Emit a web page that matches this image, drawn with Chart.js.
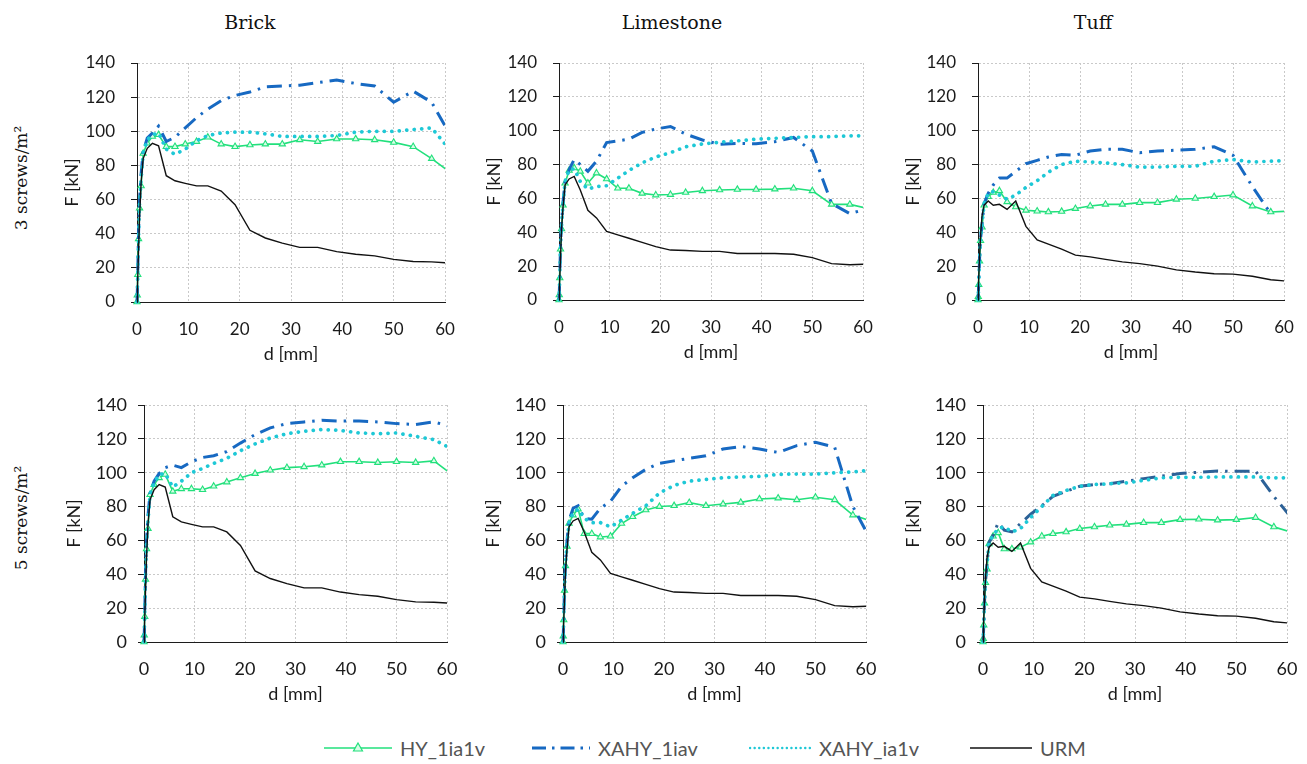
<!DOCTYPE html>
<html>
<head>
<meta charset="utf-8">
<script src="https://cdn.jsdelivr.net/npm/chart.js@4.4.1/dist/chart.umd.min.js"></script>
<style>
  body { margin: 0; background: #fff; width: 1307px; height: 764px; position: relative; overflow: hidden; font-family: Lato, sans-serif; }
  .panel { position: absolute; }
  .colTitle { position: absolute; top: 11px; font: 19px 'DejaVu Serif', serif; color: #111; transform: translateX(-50%); white-space: nowrap; }
  .rowTitle { position: absolute; font: 17px 'DejaVu Serif', serif; color: #111; transform: translate(-50%, -50%) rotate(-90deg); white-space: nowrap; }
  .legItem { position: absolute; top: 736px; height: 24px; display: flex; align-items: center; font: 20px Lato, sans-serif; color: #555; white-space: nowrap; }
  .legItem svg { margin-right: 8px; }
</style>
</head>
<body>

<div class="colTitle" style="left:250px">Brick</div>
<div class="colTitle" style="left:672px">Limestone</div>
<div class="colTitle" style="left:1093px">Tuff</div>
<div class="rowTitle" style="left:21px; top:178px">3 screws/m²</div>
<div class="rowTitle" style="left:21px; top:518px">5 screws/m²</div>

<div class="legItem" style="left:324px">
  <svg width="68" height="20"><line x1="0" y1="10" x2="68" y2="10" stroke="#22e07c" stroke-width="1.6"/><polygon points="34,5 38.5,13 29.5,13" fill="#d8fde6" stroke="#22e07c" stroke-width="1.2"/></svg>HY_1ia1v
</div>
<div class="legItem" style="left:532px">
  <svg width="58" height="20"><line x1="0" y1="10" x2="58" y2="10" stroke="#1769c2" stroke-width="3" stroke-dasharray="14 6 2.5 6"/></svg>XAHY_1iav
</div>
<div class="legItem" style="left:749px">
  <svg width="62" height="20"><line x1="1" y1="10" x2="61" y2="10" stroke="#1ec8d6" stroke-width="2.4" stroke-linecap="round" stroke-dasharray="0.1 4.5"/></svg>XAHY_ia1v
</div>
<div class="legItem" style="left:970px">
  <svg width="62" height="20"><line x1="0" y1="10" x2="62" y2="10" stroke="#111" stroke-width="1.4"/></svg>URM
</div>

<script>
// displacement steps shared by every envelope curve [mm]
const dispMm = [0, 0.05, 0.15, 0.3, 0.5, 0.8, 1.2, 2.0, 3.0, 4.2, 5.7, 7.4, 9.4, 11.6, 13.8, 16.4, 19.1, 22.0,
                25.0, 28.3, 31.7, 35.2, 38.9, 42.6, 46.3, 50.0, 53.8, 57.4, 61.0];

const xTicks = [0, 10, 20, 30, 40, 50, 60];
const yTicks = [0, 20, 40, 60, 80, 100, 120, 140];

const seriesNames = ['HY_1ia1v', 'XAHY_1iav', 'XAHY_ia1v', 'URM'];

// unreinforced walls, one curve per masonry type [kN]
const urmBrick     = [0, 2, 10, 30, 50, 70, 84, 90, 93, 91.5, 74, 71, 69.5, 68, 68, 65, 57, 42, 37.5, 34.5, 32, 32, 29.5, 28, 27, 25, 23.7, 23.5, 22.8];
const urmLimestone = [0, 2, 9, 25, 42, 55, 68, 71.5, 73, 65, 53, 48.5, 40.5, 38.5, 36.5, 34, 31.5, 29.5, 29.2, 28.7, 28.7, 27.5, 27.5, 27.5, 27, 25, 21.5, 20.8, 21.3];
const urmTuff      = [0, 2, 10, 25, 38, 50, 56, 58.5, 56, 56.5, 53.5, 58.5, 43.5, 35.5, 33, 30, 26.5, 25.5, 24, 22.5, 21.5, 20, 17.8, 16.5, 15.5, 15.3, 14, 12, 11];

// 3 screws/m2
const hyBrick3   = [0, 4, 16, 37, 55, 68, 87, 93, 97, 98, 91, 91, 92.5, 94, 96.5, 92.5, 91, 92, 92.5, 92.5, 95, 94, 95.5, 95.5, 95, 93.5, 91, 84, 76];
const avBrick3   = [0, 4, 18, 40, 60, 75, 88, 96, 99, 103, 94, 96.5, 102, 108, 113, 118, 121, 123, 126, 126.5, 127, 128.5, 130, 128, 126.5, 117, 123.5, 117, 98];
const vBrick3    = [0, 4, 17, 38, 58, 72, 87, 95, 98, 99, 89.5, 86.5, 89.5, 94.5, 97.5, 99, 99.5, 99.5, 98.5, 97, 97, 97, 97.5, 99.5, 100, 100, 101, 102, 89];

const hyLime3    = [0, 3, 13, 30, 42, 56, 69, 76.5, 78, 76, 69, 75, 71.5, 66, 66, 63, 62, 62.3, 63.5, 64.5, 65, 65.3, 65.3, 65.5, 66, 64.5, 56.5, 56.5, 54];
const avLime3    = [0, 3, 14, 32, 45, 58, 70, 77, 83, 80, 76, 82, 93, 94, 95, 99, 101, 102.5, 98, 94.5, 92, 92.5, 92.3, 93.5, 96, 88, 57, 51, 54];
const vLime3     = [0, 3, 14, 31, 44, 57, 70, 77, 77.5, 70, 65.5, 67, 67.5, 72, 76.5, 81, 84.5, 87, 90.5, 92.2, 93.2, 94, 95, 95.5, 96, 96.5, 96.5, 97, 97];

const hyTuff3    = [0, 2, 9, 23, 35, 43, 56, 61, 63.5, 64.5, 58, 55, 53, 52.5, 52, 52.3, 54, 55.5, 56.5, 56.5, 57.5, 57.5, 59.5, 60, 61, 62, 55.5, 52, 52.5];
const avTuff3    = [0, 2, 10, 24, 36, 45, 57, 63, 68, 72, 72, 76, 80.5, 82.5, 84.5, 86, 85.5, 88, 89, 89, 87, 88, 88.5, 89, 90.5, 85.5, 67, 51, null];
const vTuff3     = [0, 2, 10, 24, 36, 45, 57, 63, 64, 62, 59.5, 62, 66.5, 70.5, 75.5, 80, 82, 81.5, 81, 80, 78.5, 78.5, 79, 79, 82, 83, 81.5, 82, 82.5];

// 5 screws/m2
const hyBrick5   = [0, 4, 15, 37, 55, 67, 87, 93, 97, 99, 89, 90.5, 90.5, 90, 92, 94.5, 97, 99.5, 101.5, 103, 103.5, 104.5, 106.5, 106.5, 106, 106.5, 106, 107, 99];
const avBrick5   = [0, 4, 18, 40, 60, 75, 88, 95, 99.5, 103, 104.5, 103, 106.5, 109, 110, 112.5, 117.5, 122.5, 126.5, 129, 130, 131, 130.5, 130.5, 130, 129, 128.5, 130, 127];
const vBrick5    = [0, 4, 17, 38, 58, 72, 87, 94, 99, 99.5, 91.5, 95, 100, 102.5, 105.5, 108.5, 113, 117, 120.5, 123, 124.5, 125.5, 125, 123.5, 123, 123.5, 121.5, 119.5, 114];

const hyLime5    = [0, 3.5, 13, 30.5, 45, 56.5, 70, 75, 78.5, 64, 64, 62, 62.5, 70, 74, 78, 80, 80.5, 82.3, 80.5, 81.5, 82.5, 84.5, 85, 84, 85.5, 84, 75, 71.5];
const avLime5    = [0, 3.5, 14, 32, 47, 60, 72, 79, 80.5, 73, 72.5, 79, 83, 92, 97, 102, 105.5, 107, 108.5, 110, 114, 115.5, 114, 112, 116, 118, 115, 80, 60];
const vLime5     = [0, 3.5, 14, 31, 46, 58, 71, 76, 78.5, 73, 70.5, 70.5, 68, 72, 76, 80.5, 88, 92.5, 95, 96, 97, 97.5, 97.8, 99, 99.2, 99.2, 100, 100.5, 101.5];

const hyTuff5    = [0, 2, 10, 23, 35, 43, 58, 62.5, 64.5, 55, 55, 56, 59, 62.5, 64, 65, 67, 68, 69, 69.5, 70.5, 70.5, 72.3, 72.5, 72, 72.3, 73.5, 68, 64.8];
const avTuff5    = [0, 2, 10, 24, 36, 46, 59, 63, 70.5, 66, 65, 70, 75.5, 80.5, 86, 89, 92, 93, 93.5, 95, 96.5, 98, 99.5, 100.3, 101, 100.8, 101, 86, 73];
const vTuff5     = [0, 2, 10, 24, 36, 46, 59, 63, 67, 68, 65, 67, 73.5, 80, 86.5, 89.5, 92, 93, 93.5, 94, 95.5, 97, 97.3, 97.3, 97.5, 97.5, 97.5, 97, 97];

// plot-area corners in page pixels: [x=0, y=140, x=60, y=0]
const panels = [
  { area: [137, 63, 445, 302], row: 0, series: [hyBrick3, avBrick3, vBrick3, urmBrick] },
  { area: [559, 63, 863, 300], row: 0, series: [hyLime3, avLime3, vLime3, urmLimestone] },
  { area: [978, 63, 1284, 300], row: 0, series: [hyTuff3, avTuff3, vTuff3, urmTuff] },
  { area: [144, 405, 447, 642], row: 1, series: [hyBrick5, avBrick5, vBrick5, urmBrick] },
  { area: [563, 405, 866, 642], row: 1, series: [hyLime5, avLime5, vLime5, urmLimestone] },
  { area: [983, 405, 1287, 642], row: 1, series: [hyTuff5, avTuff5, vTuff5, urmTuff], blue: '#2c6197' },
];

const Y_W = 95, X_H = 70, PAD_T = 15, PAD_R = 15;
const AXIS = '#1c1c1c', GRID = '#c9c9c9', TXT = '#1a1a1a';

function lineStyles(blue) {
  return [
    { borderColor: '#22e07c', borderWidth: 1.6, pointStyle: 'triangle', pointRadius: 3.6,
      pointBorderColor: '#22e07c', pointBackgroundColor: '#d8fde6', pointBorderWidth: 1.1, order: 4 },
    { borderColor: blue || '#1769c2', borderWidth: 3, borderDash: [15, 7, 2.5, 7], pointRadius: 0, order: 3 },
    { borderColor: '#1ec8d6', borderWidth: 3.7, borderDash: [0.1, 7.4], borderCapStyle: 'round', pointRadius: 0, order: 2 },
    { borderColor: '#111', borderWidth: 1.4, pointRadius: 0, order: 1 },
  ];
}

// keep the plot area exactly where the page layout puts it
function noPad(s) {
  s.paddingTop = 0; s.paddingBottom = 0; s.paddingLeft = 0; s.paddingRight = 0;
}

panels.forEach(p => {
  const [axL, axT, axR, axB] = p.area;
  const wrap = document.createElement('div');
  wrap.className = 'panel';
  wrap.style.left = (axL - Y_W) + 'px';
  wrap.style.top = (axT - PAD_T) + 'px';
  const cv = document.createElement('canvas');
  cv.width = Y_W + (axR - axL) + PAD_R;
  cv.height = PAD_T + (axB - axT) + X_H;
  wrap.appendChild(cv);
  document.body.appendChild(wrap);

  const styles = lineStyles(p.blue);
  const datasets = p.series.map((ys, i) => Object.assign({
    label: seriesNames[i],
    data: dispMm.map((x, j) => ({ x: x, y: ys[j] })),
    tension: 0,
    fill: false,
    spanGaps: false,
    clip: { left: 6, top: 6, right: 0, bottom: 6 },
  }, styles[i]));

  const tickFont = { family: 'Lato', size: p.row ? 18 : 17 };
  const titleFont = { family: 'Lato', size: 18 };

  new Chart(cv, {
    type: 'line',
    data: { datasets: datasets },
    options: {
      responsive: false,
      animation: false,
      layout: { padding: { top: PAD_T, right: PAD_R, left: 0, bottom: 0 } },
      plugins: { legend: { display: false }, tooltip: { enabled: false } },
      scales: {
        x: {
          type: 'linear', min: 0, max: 60,
          afterBuildTicks: s => { s.ticks = xTicks.map(v => ({ value: v })); },
          afterFit: s => { s.height = X_H; noPad(s); },
          ticks: { font: tickFont, color: TXT, padding: p.row ? 16 : 17, maxRotation: 0, autoSkip: false },
          grid: { color: GRID, lineWidth: 1, drawTicks: false },
          border: { color: AXIS, width: 1, dash: [2, 2] },
          title: { display: true, text: 'd [mm]', font: titleFont, color: TXT, padding: { top: 0, bottom: 7 } },
        },
        y: {
          type: 'linear', min: 0, max: 140,
          afterBuildTicks: s => { s.ticks = yTicks.map(v => ({ value: v })); },
          afterFit: s => { s.width = Y_W; noPad(s); },
          ticks: { font: tickFont, color: TXT, padding: p.row ? 11 : 16 },
          grid: { color: GRID, lineWidth: 1, drawTicks: true, tickLength: 6, tickColor: AXIS, tickBorderDash: [] },
          border: { color: AXIS, width: 1, dash: [2, 2] },
          title: { display: true, text: 'F [kN]', font: titleFont, color: TXT,
                   padding: { top: Y_W - (p.row ? 70 : 65) - 10.8, bottom: 0 } },
        },
      },
    },
  });
});
</script>
</body>
</html>
